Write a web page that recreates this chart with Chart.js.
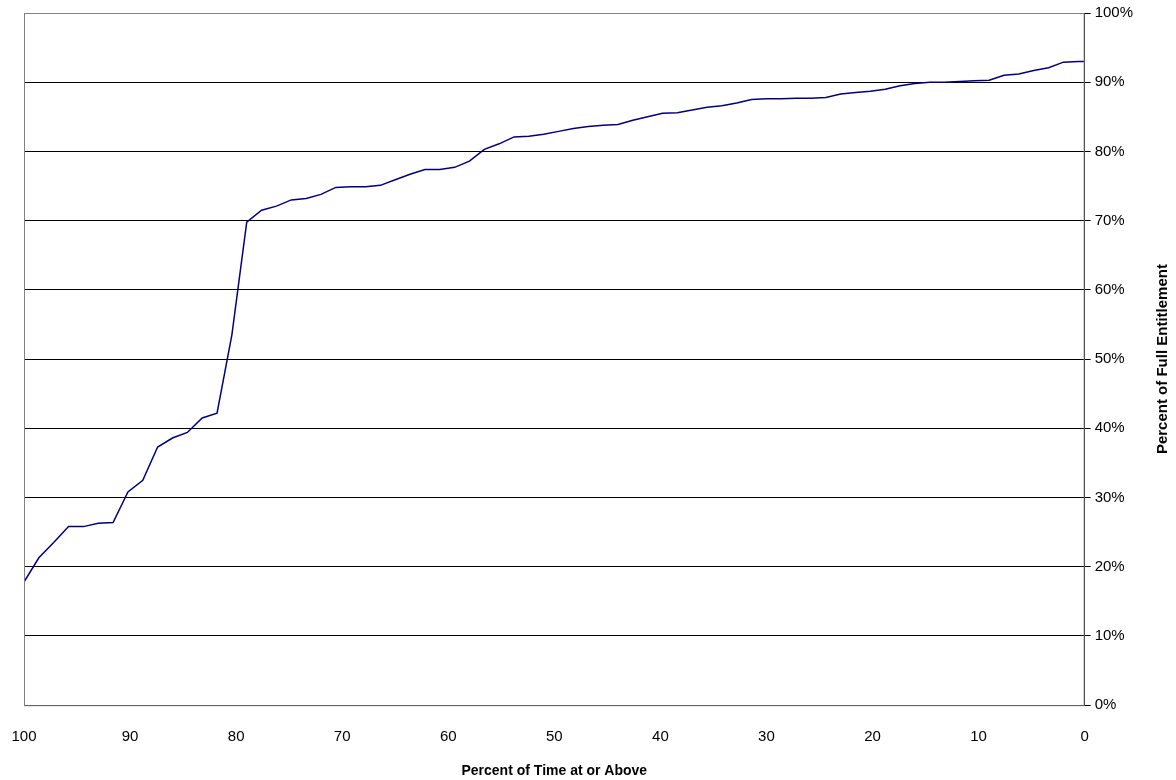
<!DOCTYPE html>
<html><head><meta charset="utf-8">
<script src="https://cdn.jsdelivr.net/npm/chart.js@4/dist/chart.umd.min.js"></script>
<style>html,body{margin:0;padding:0;background:#fff}#w{width:1176px;height:780px}</style>
</head><body><div id="w"><canvas id="c"></canvas></div>
<script>
const timePct = [100,98.6,97.2,95.8,94.4,93.0,91.6,90.2,88.8,87.4,86.0,84.6,83.2,81.8,80.4,79.0,77.6,76.2,74.8,73.4,72.0,70.6,69.2,67.8,66.4,65.0,63.6,62.2,60.8,59.4,58.0,56.6,55.2,53.8,52.4,51.0,49.6,48.2,46.8,45.4,44.0,42.6,41.2,39.8,38.4,37.0,35.6,34.2,32.8,31.4,30.0,28.6,27.2,25.8,24.4,23.0,21.6,20.2,18.8,17.4,16.0,14.6,13.2,11.8,10.4,9.0,7.6,6.2,4.8,3.4,2.0,0.6,0];
const entitlement = [17.8,21.3,23.5,25.8,25.8,26.3,26.4,30.8,32.5,37.3,38.6,39.4,41.5,42.2,53.5,69.8,71.5,72.1,73.0,73.2,73.8,74.8,74.9,74.9,75.1,75.9,76.7,77.4,77.4,77.7,78.6,80.3,81.1,82.1,82.2,82.5,82.9,83.3,83.6,83.8,83.9,84.5,85.0,85.5,85.6,86.0,86.4,86.6,87.0,87.5,87.6,87.6,87.7,87.7,87.8,88.3,88.5,88.7,89.0,89.5,89.8,90.0,90.0,90.1,90.2,90.3,91.0,91.2,91.7,92.1,92.9,93.0,93.0];
const xTitle = "Percent of Time at or Above";
const yTitle = "Percent of Full Entitlement";
const F = "'Liberation Sans', Arial, sans-serif";
const yTitlePlugin = {id:'yt', afterDraw(ch){const c=ch.ctx,a=ch.chartArea;c.save();c.font="bold 15px "+F;c.fillStyle='#000';c.textAlign='center';c.textBaseline='middle';c.translate(1163,(a.top+a.bottom)/2);c.rotate(-Math.PI/2);c.fillText(yTitle,0,0);c.restore();
 c.save();c.strokeStyle='#808080';c.lineWidth=1;c.strokeRect(a.left+0.5,a.top+0.5,a.right-a.left-1,a.bottom-a.top);c.restore();}};
new Chart(document.getElementById('c'),{type:'line',
 data:{datasets:[{data:timePct.map((x,i)=>({x,y:entitlement[i]})),borderColor:'#000080',borderWidth:1.5,pointRadius:0,tension:0,fill:false}]},
 options:{responsive:true,maintainAspectRatio:false,animation:false,
  layout:{padding:{left:24,right:39,top:13,bottom:0}},
  plugins:{legend:{display:false},tooltip:{enabled:false}},
  scales:{
   x:{type:'linear',reverse:true,min:0,max:100,afterFit:s=>{s.paddingLeft=0;},
      ticks:{stepSize:10,color:'#000',font:{family:F,size:15},padding:17},
      grid:{display:false,drawTicks:true,tickLength:6,color:'#000'},border:{color:'#000'},
      title:{display:true,text:xTitle,color:'#000',font:{family:F,size:14,weight:'bold'},padding:{top:0,bottom:0}}},
   y:{position:'right',min:0,max:100,
      ticks:{stepSize:10,color:'#000',font:{family:F,size:15},padding:4,callback:v=>v+'%'},
      grid:{color:'#000',tickLength:6},border:{color:'#000'}}
  }},
 plugins:[yTitlePlugin]});
</script></body></html>
